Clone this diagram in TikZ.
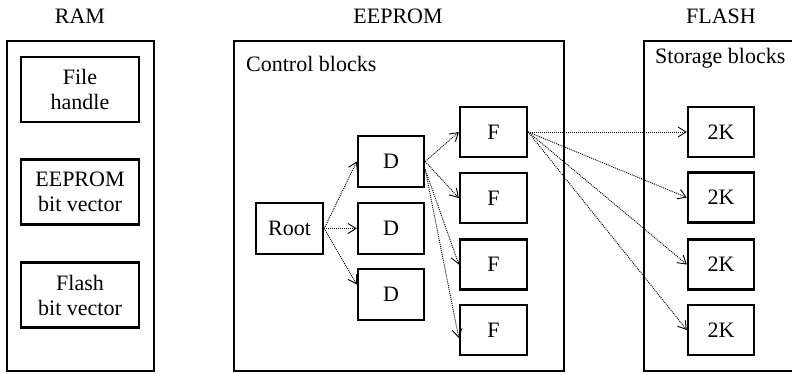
\documentclass[tikz,border=0pt]{standalone}
\usepackage{fontspec}
\setmainfont{Liberation Serif}
\usetikzlibrary{arrows.meta}
\begin{document}
\begin{tikzpicture}[x=1pt,y=-1pt,
  every node/.style={font=\fontsize{22}{25}\selectfont},
  container/.style={draw, line width=2pt, inner sep=0pt},
  blk/.style={draw, line width=2.4pt, inner sep=0pt, minimum width=66pt, minimum height=51pt, align=center},
  wide/.style={blk, minimum width=118pt, minimum height=65pt},
  link/.style={line width=0.9pt, dash pattern=on 1pt off 1pt, -{Straight Barb[length=8pt,width=10pt,line width=0.9pt]}}
]
\useasboundingbox (0,0) rectangle (792,373);
% containers
\node[container, minimum width=147pt, minimum height=330pt] (ram) at (80.5,206) {};
\node[container, minimum width=330pt, minimum height=330pt] (eeprom) at (399,206) {};
\coordinate (fltr) at (800,41);
\coordinate (fltl) at (644,41);
\coordinate (flbl) at (644,371);
\coordinate (flbr) at (800,371);
\draw[line width=2pt] (fltr) -- (fltl) -- (flbl) -- (flbr);
% titles
\node[anchor=base] (tram) at (80,23) {RAM};
\node[anchor=base] (teep) at (398,23) {EEPROM};
\node[anchor=base] (tfl) at (721,23) {FLASH};
\node[anchor=base west, inner sep=0pt] (tcb) at (246,71) {Control blocks};
\node[anchor=base west, inner sep=0pt] (tsb) at (655,63) {Storage blocks};
% RAM blocks
\node[wide] (fh) at (80,89.5) {File\\handle};
\node[wide] (ebv) at (80,192) {EEPROM\\bit vector};
\node[wide] (fbv) at (80,295) {Flash\\bit vector};
% EEPROM blocks
\node[blk, minimum width=67pt] (root) at (289.5,228.5) {Root};
\node[blk] (d1) at (391,161.5) {D};
\node[blk] (d2) at (391,228.5) {D};
\node[blk] (d3) at (391,294.5) {D};
\node[blk, minimum width=67pt, minimum height=50pt] (f1) at (493.5,132) {F};
\node[blk, minimum width=67pt, minimum height=50pt] (f2) at (493.5,198) {F};
\node[blk, minimum width=67pt, minimum height=50pt] (f3) at (493.5,264.5) {F};
\node[blk, minimum width=67pt, minimum height=50pt] (f4) at (493.5,330) {F};
% FLASH blocks
\node[blk, minimum height=50pt] (k1) at (721,132) {2K};
\node[blk, minimum height=50pt] (k2) at (721,197.5) {2K};
\node[blk, minimum height=50pt] (k3) at (721,264.5) {2K};
\node[blk, minimum height=50pt] (k4) at (721,330) {2K};
% links
\draw[link] (root.east) -- (d1.west);
\draw[link] (root.east) -- (d2.west);
\draw[link] (root.east) -- ([yshift=10pt]d3.west);
\draw[link] (d1.east) -- (f1.west);
\draw[link] (d1.east) -- (f2.west);
\draw[link] ([yshift=-8pt]d1.east) -- (f3.west);
\draw[link] ([yshift=-8pt]d1.east) -- ([yshift=-8pt]f4.west);
\draw[link] (f1.east) -- (k1.west);
\draw[link] (f1.east) -- (k2.west);
\draw[link] (f1.east) -- (k3.west);
\draw[link] (f1.east) -- (k4.west);
\end{tikzpicture}
\end{document}
